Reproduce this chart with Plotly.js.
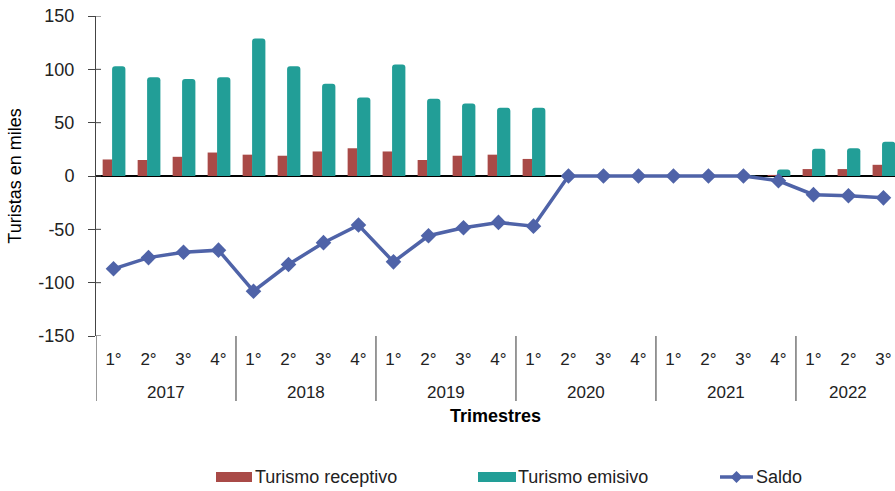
<!DOCTYPE html>
<html>
<head>
<meta charset="utf-8">
<script src="https://cdn.plot.ly/plotly-3.0.1.min.js"></script>
<style>html,body{margin:0;padding:0;background:#fff}#chart{width:895px;height:491px}</style>
</head>
<body>
<div id="chart"></div>
<script>
const years = ["2017","2017","2017","2017","2018","2018","2018","2018","2019","2019","2019","2019","2020","2020","2020","2020","2021","2021","2021","2021","2022","2022","2022"];
const quarters = ["1°","2°","3°","4°","1°","2°","3°","4°","1°","2°","3°","4°","1°","2°","3°","4°","1°","2°","3°","4°","1°","2°","3°"];
const receptivo = [15.5,15,18,22,20,19,23,26,23,15,19,20,16,0,0,0,0,0,0,1,6.5,6.5,10.5];
const emisivo = [103,92.5,91,92.5,129,103,86.5,73.5,104.5,72.5,68,64,64,0.3,0.3,0.3,0.3,0.3,0.3,6,25.5,26,32];
const saldo = [-87,-76.5,-71.5,-69.5,-108,-83,-62.5,-46,-80.5,-56,-48.5,-43.5,-47,0,0,0,0,0,0,-4.5,-17.5,-18.5,-20.5];
const seriesNames = ["Turismo receptivo","Turismo emisivo","Saldo"];
const yTickVals = [-150,-100,-50,0,50,100,150];
const yTickText = ["-150","-100","-50","0","50","100","150"];

const colors = ["#A94A47","#229E97","#4F63A8"];
const font = "Liberation Sans, Arial, sans-serif";
const idx = quarters.map((_, i) => i);

// plot area in pixels (for converting fixed decorations to paper coords)
const L = 96, T = 16, W = 799, H = 320;
const px = x => (x - L) / W;
const py = y => (T + H - y) / H;

const traces = [
  {type:"bar", name:seriesNames[0], x:idx, y:receptivo, width:0.28, offset:-0.31,
   marker:{color:colors[0]}, showlegend:false},
  {type:"bar", name:seriesNames[1], x:idx, y:emisivo, width:0.38, offset:-0.04,
   marker:{color:colors[1], cornerradius:3}, showlegend:false},
  {type:"scatter", mode:"lines+markers", name:seriesNames[2], x:idx, y:saldo,
   line:{color:colors[2], width:3.5}, marker:{symbol:"diamond", size:12, color:colors[2]}, showlegend:false}
];

// year group labels and dividers derived from the years array
const groups = [];
years.forEach((y, i) => {
  if (!groups.length || groups[groups.length-1].year !== y) groups.push({year:y, start:i, end:i});
  else groups[groups.length-1].end = i;
});
const annotations = groups.map(g => ({
  xref:"x", yref:"paper", x:(g.start + g.end) / 2, y:py(392), text:g.year, showarrow:false,
  xanchor:"center", yanchor:"middle", font:{family:font, size:17, color:"#222"}
}));
const shapes = groups.map(g => ({
  type:"line", xref:"x", yref:"paper", x0:g.start - 0.5, x1:g.start - 0.5, y0:py(336), y1:py(401),
  line:{color:"#333", width:1}
}));
// small inner part of the crossing y ticks
yTickVals.forEach(v => shapes.push({type:"line", xref:"paper", yref:"y", x0:0, x1:px(L+5), y0:v, y1:v,
  line:{color:"#444", width:1}}));

// custom legend
const legX = [216, 478, 720];
const legY = 477;
shapes.push({type:"rect", xref:"paper", yref:"paper", x0:px(legX[0]), x1:px(legX[0]+36), y0:py(legY+5), y1:py(legY-5),
  line:{width:0}, fillcolor:colors[0]});
shapes.push({type:"rect", xref:"paper", yref:"paper", x0:px(legX[1]), x1:px(legX[1]+38), y0:py(legY+5), y1:py(legY-5),
  line:{width:0}, fillcolor:colors[1]});
shapes.push({type:"line", xref:"paper", yref:"paper", x0:px(legX[2]), x1:px(legX[2]+33), y0:py(legY), y1:py(legY),
  line:{color:colors[2], width:3.5}});
const cx = legX[2]+16.5, d = 6;
shapes.push({type:"path", xref:"paper", yref:"paper",
  path:`M ${px(cx)} ${py(legY-d)} L ${px(cx+d)} ${py(legY)} L ${px(cx)} ${py(legY+d)} L ${px(cx-d)} ${py(legY)} Z`,
  line:{width:0}, fillcolor:colors[2]});
const legTextX = [legX[0]+37, legX[1]+38, legX[2]+34];
seriesNames.forEach((n, i) => annotations.push({
  xref:"paper", yref:"paper", x:px(legTextX[i]), y:py(legY), text:n, showarrow:false,
  xanchor:"left", yanchor:"middle", font:{family:font, size:18, color:"#222"}
}));

const layout = {
  width:895, height:491,
  margin:{l:L, r:895-L-W, t:T, b:491-T-H, pad:0},
  paper_bgcolor:"#fff", plot_bgcolor:"#fff",
  barmode:"overlay",
  showlegend:false,
  font:{family:font, size:16, color:"#222"},
  xaxis:{
    range:[-0.5,22.33], tickmode:"array", tickvals:idx, ticktext:quarters,
    showgrid:false, zeroline:false, showline:false, ticks:"",
    ticklabelstandoff:11,
    tickfont:{family:font, size:17, color:"#222"},
    title:{text:"Trimestres", font:{family:font, size:18, color:"#000", weight:"bold"}, standoff:41}
  },
  yaxis:{
    range:[-150,150], tickmode:"array", tickvals:yTickVals, ticktext:yTickText, showgrid:false,
    zeroline:true, zerolinecolor:"#000", zerolinewidth:1.5,
    showline:true, linecolor:"#444", linewidth:1,
    ticks:"outside", ticklen:7, tickcolor:"#444", ticklabelstandoff:10,
    tickfont:{family:font, size:18, color:"#222"},
    title:{text:"Turistas en miles", font:{family:font, size:18, color:"#000"}, standoff:12}
  },
  shapes:shapes,
  annotations:annotations
};

Plotly.newPlot("chart", traces, layout, {displayModeBar:false, staticPlot:true});
</script>
</body>
</html>
